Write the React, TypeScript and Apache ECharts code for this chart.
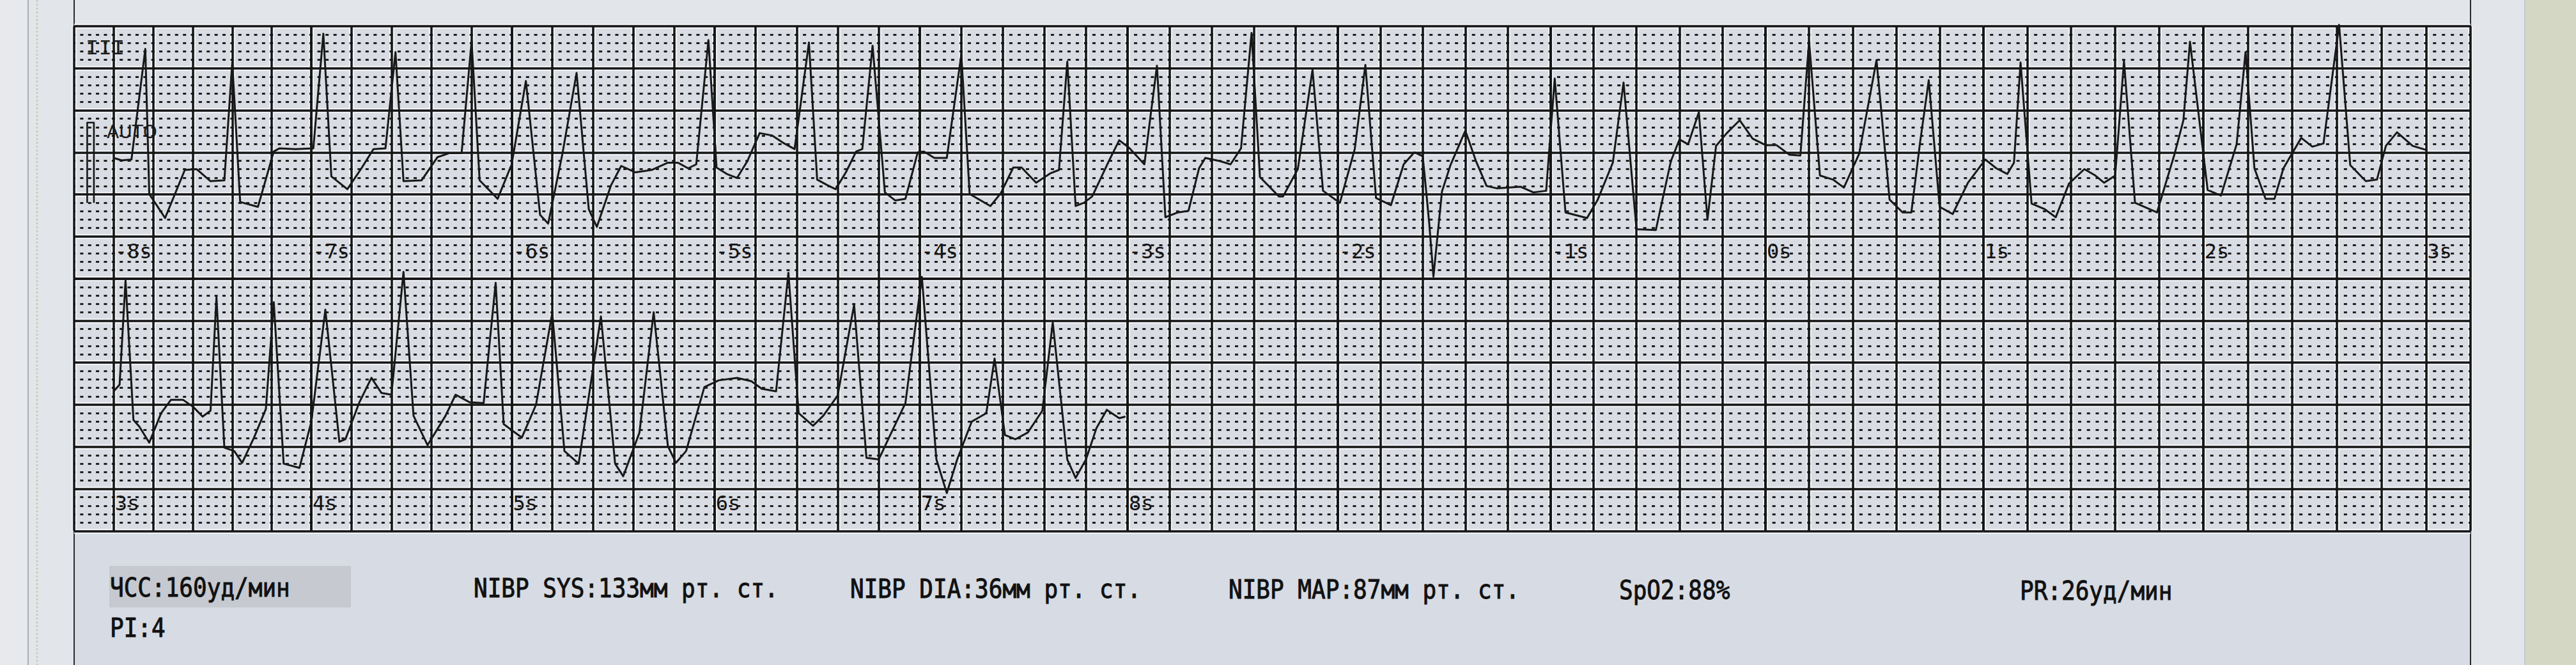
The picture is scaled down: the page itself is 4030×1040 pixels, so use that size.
import React, { useEffect, useRef } from "react";
import * as echarts from "echarts";

// ---- ECG trace, lead III, top strip (seconds, mV) ----
const TOP_T = [
  -8.0, -7.96, -7.91, -7.84, -7.82, -7.74, -7.64, -7.58, -7.51, -7.44,
  -7.40, -7.36, -7.27, -7.19, -7.16, -7.08, -6.99, -6.94, -6.90, -6.82,
  -6.75, -6.69, -6.63, -6.58, -6.54, -6.45, -6.37, -6.31, -6.25, -6.2,
  -6.16, -6.07, -6.0, -5.93, -5.86, -5.82, -5.75, -5.68, -5.62, -5.58,
  -5.51, -5.46, -5.39, -5.31, -5.23, -5.18, -5.13, -5.09, -5.03, -4.99,
  -4.94, -4.89, -4.84, -4.78, -4.72, -4.66, -4.61, -4.54, -4.50, -4.45,
  -4.41, -4.36, -4.31, -4.28, -4.23, -4.17, -4.12, -4.07, -4.01, -3.98,
  -3.93, -3.87, -3.80, -3.76, -3.66, -3.61, -3.55, -3.51, -3.44, -3.37,
  -3.33, -3.29, -3.25, -3.21, -3.17, -3.09, -3.04, -2.99, -2.92, -2.86,
  -2.82, -2.76, -2.71, -2.66, -2.63, -2.56, -2.51, -2.46, -2.41, -2.37,
  -2.28, -2.26, -2.19, -2.12, -2.07, -1.99, -1.92, -1.87, -1.82, -1.75,
  -1.69, -1.64, -1.6, -1.57, -1.55, -1.51, -1.47, -1.4, -1.35, -1.30,
  -1.25, -1.14, -1.08, -1.02, -0.98, -0.93, -0.83, -0.78, -0.71, -0.66,
  -0.6, -0.51, -0.44, -0.4, -0.36, -0.31, -0.27, -0.23, -0.18, -0.12,
  -0.06, 0.0, 0.05, 0.11, 0.16, 0.2, 0.25, 0.31, 0.36, 0.43,
  0.51, 0.57, 0.63, 0.67, 0.71, 0.75, 0.8, 0.86, 0.93, 1.01,
  1.06, 1.11, 1.14, 1.17, 1.22, 1.28, 1.33, 1.39, 1.46, 1.51,
  1.55, 1.60, 1.64, 1.69, 1.79, 1.87, 1.91, 1.94, 2.02, 2.08,
  2.15, 2.19, 2.23, 2.28, 2.32, 2.36, 2.44, 2.49, 2.54, 2.61,
  2.66, 2.73, 2.78, 2.82, 2.87, 2.94, 3.0,
];
const TOP_V = [
  0.53, 0.5, 0.51, 1.89, 0.08, -0.22, 0.38, 0.39, 0.24, 0.25,
  1.73, -0.02, -0.08, 0.61, 0.65, 0.64, 0.65, 2.08, 0.30, 0.14,
  0.4, 0.64, 0.65, 1.85, 0.24, 0.25, 0.54, 0.59, 0.59, 1.99,
  0.25, 0.02, 0.45, 1.49, -0.18, -0.29, 0.58, 1.59, -0.11, -0.33,
  0.19, 0.43, 0.35, 0.38, 0.47, 0.47, 0.4, 0.45, 2.0, 0.41,
  0.33, 0.28, 0.49, 0.84, 0.81, 0.71, 0.64, 1.97, 0.26, 0.19,
  0.14, 0.35, 0.61, 0.64, 1.93, 0.10, 0.0, 0.02, 0.60, 0.61,
  0.53, 0.53, 1.82, 0.08, -0.07, 0.09, 0.41, 0.41, 0.22, 0.34,
  0.38, 1.73, -0.07, -0.03, 0.05, 0.49, 0.75, 0.65, 0.45, 1.68,
  -0.21, -0.15, -0.13, 0.4, 0.53, 0.49, 0.45, 0.65, 2.09, 0.29,
  0.05, 0.05, 0.39, 1.63, 0.12, -0.03, 0.64, 1.69, 0.03, -0.06,
  0.45, 0.6, 0.55, -0.28, -0.95, 0.11, 0.44, 0.87, 0.49, 0.18,
  0.15, 0.17, 0.10, 0.12, 1.52, -0.15, -0.22, 0.01, 0.47, 1.47,
  -0.36, -0.37, 0.49, 0.76, 0.7, 1.1, -0.24, 0.68, 0.84, 1.0,
  0.77, 0.69, 0.69, 0.57, 0.56, 1.99, 0.31, 0.26, 0.16, 0.58,
  1.75, 0.01, -0.15, -0.15, 0.72, 1.5, -0.08, -0.17, 0.22, 0.51,
  0.40, 0.33, 0.47, 1.72, -0.04, -0.11, -0.21, 0.21, 0.39, 0.31,
  0.22, 0.31, 1.74, -0.03, -0.15, 0.58, 1.0, 1.98, 0.13, 0.06,
  0.7, 1.85, 0.4, 0.02, 0.02, 0.4, 0.78, 0.67, 0.71, 2.19,
  0.44, 0.24, 0.26, 0.68, 0.85, 0.68, 0.63,
];

// ---- bottom strip (continuation, seconds, mV) ----
const BOT_T = [
  3.0, 3.03, 3.06, 3.10, 3.13, 3.18, 3.24, 3.29, 3.35, 3.40,
  3.45, 3.49, 3.52, 3.56, 3.61, 3.65, 3.71, 3.77, 3.81, 3.86,
  3.94, 4.0, 4.07, 4.14, 4.17, 4.24, 4.30, 4.35, 4.4, 4.46,
  4.51, 4.58, 4.67, 4.72, 4.79, 4.86, 4.92, 4.96, 5.05, 5.12,
  5.2, 5.26, 5.33, 5.44, 5.51, 5.55, 5.63, 5.70, 5.77, 5.81,
  5.86, 5.95, 6.02, 6.11, 6.18, 6.23, 6.30, 6.36, 6.41, 6.48,
  6.53, 6.60, 6.68, 6.74, 6.80, 6.85, 6.93, 7.01, 7.08, 7.13,
  7.18, 7.25, 7.32, 7.36, 7.41, 7.46, 7.52, 7.59, 7.64, 7.71,
  7.75, 7.8, 7.85, 7.90, 7.96, 7.99,
];
const BOT_V = [
  0.66, 0.74, 1.98, 0.32, 0.24, 0.05, 0.4, 0.56, 0.56, 0.48,
  0.36, 0.43, 1.78, -0.01, -0.05, -0.19, 0.11, 0.45, 1.72, -0.2,
  -0.25, 0.30, 1.63, 0.06, 0.09, 0.53, 0.82, 0.64, 0.62, 2.08,
  0.37, 0.02, 0.37, 0.62, 0.53, 0.52, 1.95, 0.27, 0.11, 0.5,
  1.59, -0.05, -0.2, 1.55, -0.2, -0.35, 0.17, 1.6, 0.01, -0.19,
  -0.05, 0.71, 0.79, 0.82, 0.78, 0.69, 0.66, 2.07, 0.4, 0.25,
  0.37, 0.61, 1.69, -0.13, -0.15, 0.11, 0.52, 2.02, -0.15, -0.55,
  -0.15, 0.3, 0.4, 1.05, 0.14, 0.09, 0.17, 0.43, 1.48, -0.15,
  -0.37, -0.15, 0.22, 0.44, 0.34, 0.36,
];

// calibration pulse (1 mV)
const CAL_T = [-8.134, -8.134, -8.1, -8.1];
const CAL_V = [-0.03, 0.97, 0.97, -0.03];

// time tick labels (s)
const TOP_TICKS = [-8, -7, -6, -5, -4, -3, -2, -1, 0, 1, 2, 3];
const BOTTOM_TICKS = [3, 4, 5, 6, 7, 8];
const TOP_START = -8.2;
const BOTTOM_START = 2.8;
const SEC_PER_COL = 0.2;
const MV_RANGE = [-1, 2];

const LEAD_LABEL = "III";
const MODE_LABEL = "AUTO";
const READINGS_ROW1 = [
  "ЧСС:160уд/мин",
  "NIBP SYS:133мм рт. ст.",
  "NIBP DIA:36мм рт. ст.",
  "NIBP MAP:87мм рт. ст.",
  "SpO2:88%",
  "PR:26уд/мин",
];
const READINGS_ROW2 = ["PI:4"];

// ---- layout (photo perspective: cells widen slightly to the right) ----
const W = 4030;
const H = 1040;
const X0 = 116;
const CA = 61.38;
const CB = 0.1541;
const colX = (c: number) => X0 + CA * c + (CB * c * c) / 2;
const SEG_COLS = [0, 6, 11, 16, 21, 26, 31, 36, 41, 46, 51, 57];
const GT = 41;
const ROW = 65.78;
const SH = 6 * ROW;
const INK = "#151515";
const HALO = "#eff1f5";
const MONO = "DejaVu Sans Mono";

const r3 = (x: number) => Math.round(x * 1000) / 1000;

function slicePts(T: number[], V: number[], t0: number, t1: number) {
  const out: number[][] = [];
  let any = false;
  for (let i = 0; i < T.length; i++) {
    const inside = T[i] >= t0 && T[i] <= t1;
    const before = T[i] < t0 && i + 1 < T.length && T[i + 1] >= t0;
    const after = T[i] > t1 && i > 0 && T[i - 1] <= t1;
    if (inside) any = true;
    if (inside || before || after) out.push([T[i], V[i]]);
  }
  return any || out.length > 1 ? out : [];
}

export default function App() {
  const ref = useRef<HTMLDivElement>(null);

  useEffect(() => {
    document.body.style.margin = "0";
    const chart = echarts.init(ref.current as HTMLDivElement, null, {
      renderer: "svg",
      width: W,
      height: H,
    });

    const strips = [
      { start: TOP_START, ticks: TOP_TICKS, T: TOP_T, V: TOP_V },
      { start: BOTTOM_START, ticks: BOTTOM_TICKS, T: BOT_T, V: BOT_V },
    ];
    const grids: any[] = [];
    const xAxes: any[] = [];
    const yAxes: any[] = [];
    const series: any[] = [];
    const off = {
      axisLine: { show: false },
      axisTick: { show: false },
    };
    const traceStyle = { color: "#181818", width: 3, join: "round" };

    const addGrid = (g: any, xa: any, ya: any) => {
      const idx = grids.length;
      grids.push({ ...g, show: false });
      xAxes.push({ gridIndex: idx, type: "value", ...off, ...xa });
      yAxes.push({ gridIndex: idx, type: "value", ...off, ...ya });
      return idx;
    };

    strips.forEach((s, si) => {
      const top = GT + si * SH;
      for (let k = 0; k < SEG_COLS.length - 1; k++) {
        const c0 = SEG_COLS[k];
        const c1 = SEG_COLS[k + 1];
        const left = colX(c0);
        const width = colX(c1) - left;
        const minor = width / (c1 - c0) / 5;
        const t0 = r3(s.start + SEC_PER_COL * c0);
        const t1 = r3(s.start + SEC_PER_COL * c1);
        const box = { left, top, width, height: SH };
        // halo under the ink lines
        addGrid(
          box,
          { min: t0, max: t1, interval: SEC_PER_COL, z: 1, axisLabel: { show: false },
            splitLine: { show: true, lineStyle: { color: HALO, width: 8 } } },
          { min: MV_RANGE[0], max: MV_RANGE[1], interval: 0.5, z: 1, axisLabel: { show: false },
            splitLine: { show: true, lineStyle: { color: HALO, width: 8 } } }
        );
        // ink grid with 1 mm dots and time labels
        const labels = s.ticks.filter((v) => v >= t0 - 1e-9 && v < t1 - 1e-9);
        addGrid(
          box,
          {
            min: t0, max: t1, interval: SEC_PER_COL, z: 2,
            axisLabel: {
              show: labels.length > 0,
              inside: true,
              customValues: labels,
              formatter: (v: number) => `${v}s`,
              align: "left",
              verticalAlign: "middle",
              margin: 43,
              padding: [0, 0, 0, 2],
              fontFamily: MONO,
              fontSize: 32,
              color: "#141414",
            },
            splitLine: { show: true, lineStyle: { color: INK, width: 3.5 } },
          },
          {
            min: MV_RANGE[0], max: MV_RANGE[1], interval: 0.5, z: 2,
            axisLabel: { show: false },
            splitLine: { show: true, lineStyle: { color: INK, width: 3.5 } },
            minorTick: { show: false, splitNumber: 5 },
            minorSplitLine: {
              show: true,
              lineStyle: { color: "#1e1e1e", width: 3, type: [5, minor - 5], dashOffset: 2.5 },
            },
          }
        );
        // trace layer (taller, so spikes can leave the paper grid)
        const ti = addGrid(
          { left, top: top - ROW, width, height: SH + 2 * ROW },
          { min: t0, max: t1, axisLabel: { show: false }, splitLine: { show: false } },
          { min: MV_RANGE[0] - 0.5, max: MV_RANGE[1] + 0.5, axisLabel: { show: false }, splitLine: { show: false } }
        );
        const pts = slicePts(s.T, s.V, t0, t1);
        if (pts.length > 1) {
          series.push({
            type: "line", xAxisIndex: ti, yAxisIndex: ti, data: pts,
            symbol: "none", showSymbol: false, clip: true, silent: true, z: 5,
            lineStyle: traceStyle,
          });
        }
        if (si === 0 && k === 0) {
          series.push({
            type: "line", xAxisIndex: ti, yAxisIndex: ti,
            data: CAL_T.map((t, i) => [t, CAL_V[i]]),
            symbol: "none", showSymbol: false, clip: true, silent: true, z: 5,
            lineStyle: { ...traceStyle, width: 2.6 },
          });
        }
      }
    });

    const GR = colX(57);
    const rowY = 919;
    const row1X = [172, 741, 1330, 1922, 2533, 3160];
    const textStyle = (t: string) => ({
      text: t, fontFamily: MONO, fontSize: 36, fill: "#111", stroke: "#111", lineWidth: 0.9,
      align: "left", verticalAlign: "middle",
    });

    const graphic: any[] = [
      { type: "rect", z: 0, silent: true, shape: { x: 0, y: 0, width: W, height: H }, style: { fill: "#e2e5ea" } },
      { type: "rect", z: 0, silent: true, shape: { x: 0, y: 0, width: 44, height: H }, style: { fill: "#e8e9ed" } },
      { type: "line", z: 0, silent: true, shape: { x1: 44, y1: 0, x2: 44, y2: H }, style: { stroke: "#a9adb4", lineWidth: 2 } },
      { type: "line", z: 0, silent: true, shape: { x1: 58, y1: 0, x2: 58, y2: H }, style: { stroke: "#cfcdb6", lineWidth: 3, lineDash: [3, 3] } },
      { type: "rect", z: 0, silent: true, shape: { x: 3950, y: 0, width: W - 3950, height: H }, style: { fill: "#d4d7c3" } },
      { type: "line", z: 0, silent: true, shape: { x1: 3950, y1: 0, x2: 3950, y2: H }, style: { stroke: "#c4c8cf", lineWidth: 2 } },
      { type: "rect", z: 0, silent: true, shape: { x: X0, y: GT, width: GR - X0, height: 2 * SH }, style: { fill: "#d9dce3" } },
      { type: "rect", z: 0, silent: true, shape: { x: X0, y: GT + 2 * SH, width: GR - X0, height: H - GT - 2 * SH }, style: { fill: "#d7dbe3" } },
      { type: "line", z: 0, silent: true, shape: { x1: X0, y1: 0, x2: X0, y2: H }, style: { stroke: "#2a2a2a", lineWidth: 2 } },
      { type: "line", z: 0, silent: true, shape: { x1: GR, y1: 0, x2: GR, y2: H }, style: { stroke: "#2a2a2a", lineWidth: 2 } },
      { type: "rect", z: 1, silent: true, shape: { x: 171, y: 885, width: 378, height: 65 }, style: { fill: "#c6c9d0" } },
      {
        type: "text", z: 10, silent: true, x: 134, y: 76,
        style: { text: LEAD_LABEL, fontFamily: "Liberation Mono", fontSize: 34, fill: "#1a1a1a", align: "left", verticalAlign: "middle" },
      },
      {
        type: "text", z: 10, silent: true, x: 167, y: 206,
        style: { text: MODE_LABEL, fontFamily: "DejaVu Sans", fontSize: 28, fill: "#1a1a1a", align: "left", verticalAlign: "middle" },
      },
      ...READINGS_ROW1.map((t, i) => ({
        type: "text", z: 10, silent: true, x: row1X[i], y: rowY + i, scaleY: 1.12,
        style: textStyle(t),
      })),
      ...READINGS_ROW2.map((t) => ({
        type: "text", z: 10, silent: true, x: 172, y: 982, scaleY: 1.12,
        style: textStyle(t),
      })),
    ];

    chart.setOption({
      animation: false,
      backgroundColor: "#e2e5ea",
      grid: grids,
      xAxis: xAxes,
      yAxis: yAxes,
      graphic,
      series,
    });

    return () => chart.dispose();
  }, []);

  return (
    <div
      ref={ref}
      style={{ position: "absolute", left: 0, top: 0, width: W, height: H }}
    />
  );
}
